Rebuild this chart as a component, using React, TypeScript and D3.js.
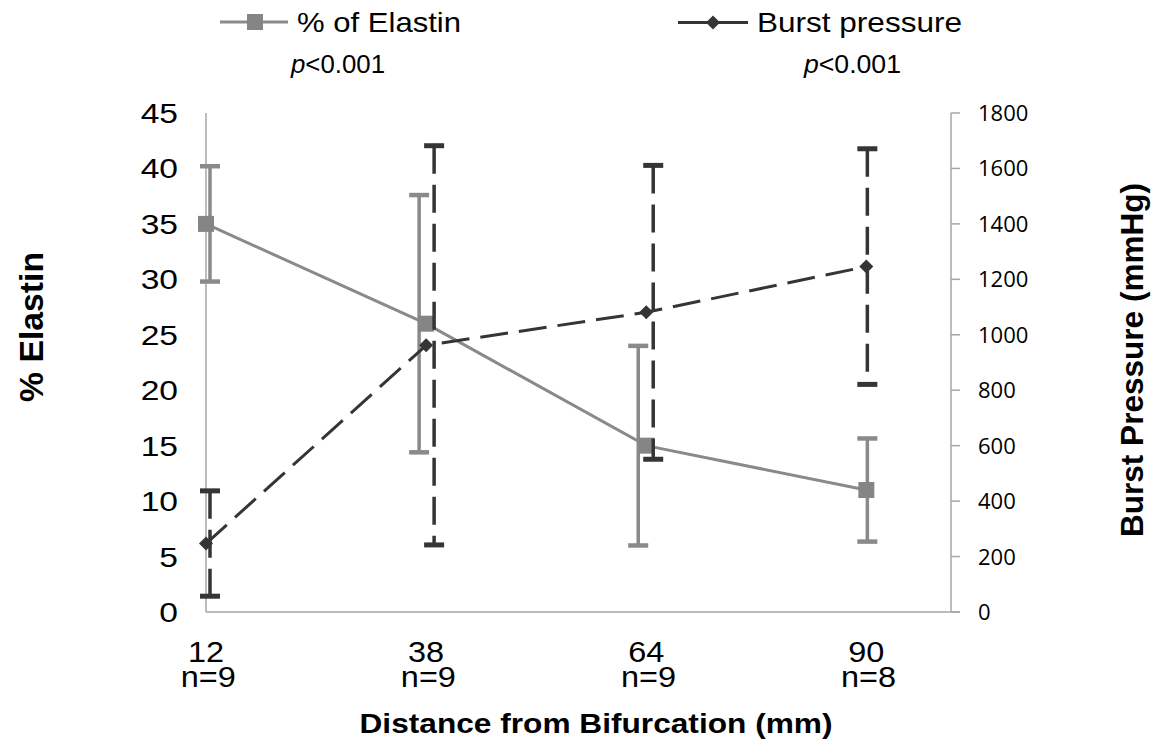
import React from "react";
import * as d3 from "d3";

const distances = [12, 38, 64, 90];
const sampleSizes = ["n=9", "n=9", "n=9", "n=8"];
const elastinMean = [35, 26, 15, 11];
const elastinSD = [5.2, 11.6, 9, 4.65];
const burstMean = [247, 962, 1081, 1246];
const burstSD = [190, 720, 530, 425];
const leftTicks = [0, 5, 10, 15, 20, 25, 30, 35, 40, 45];
const rightTicks = [0, 200, 400, 600, 800, 1000, 1200, 1400, 1600, 1800];

// styling: horizontal nudges of the error bars (px)
const elastinBarDx = [4, -7, -8, 1];
const burstBarDx = [4, 8, 7, 1];

const W = 1165;
const H = 742;
const FONT = "'Liberation Sans', Arial, sans-serif";
const RFONT = "'Open Sans', 'Liberation Sans', sans-serif";
const GRAY = "#8a8a8a";
const DARK = "#353535";
const AXIS = "#a6a6a6";

export default function App() {
  const x = d3.scaleLinear().domain([12, 100]).range([206, 951]);
  const yL = d3.scaleLinear().domain([0, 45]).range([612, 113]);
  const yR = d3.scaleLinear().domain([0, 1800]).range([612, 113]);

  const elastinLine = d3
    .line<number>()
    .x((_, i) => x(distances[i]))
    .y((d) => yL(d))(elastinMean) as string;
  const burstLine = d3
    .line<number>()
    .x((_, i) => x(distances[i]))
    .y((d) => yR(d))(burstMean) as string;

  const capW = 20;

  return (
    <svg
      width={W}
      height={H}
      style={{ position: "absolute", left: 0, top: 0, background: "#fff" }}
      fontFamily={FONT}
    >
      <rect x={0} y={0} width={W} height={H} fill="#fff" />

      {/* axes */}
      <line x1={x(12)} x2={x(12)} y1={yL(45)} y2={yL(0)} stroke={AXIS} strokeWidth={1.5} />
      <line x1={x(12)} x2={x(100) + 9} y1={yL(0)} y2={yL(0)} stroke={AXIS} strokeWidth={1.5} />
      <line x1={x(100)} x2={x(100)} y1={yR(1800)} y2={yR(0)} stroke={AXIS} strokeWidth={1.5} />
      {rightTicks.map((t) => (
        <g key={"rt" + t}>
          <line x1={x(100)} x2={x(100) + 9} y1={yR(t)} y2={yR(t)} stroke={AXIS} strokeWidth={1.5} />
          <text x={978} y={yR(t) + 8} fontFamily={RFONT} fontSize={22} fill="#000">
            {t}
          </text>
        </g>
      ))}
      {leftTicks.map((t) => (
        <text
          key={"lt" + t}
          transform={`translate(178,${yL(t) + 10}) scale(1.2,1)`}
          fontSize={28}
          textAnchor="end"
          fill="#000"
        >
          {t}
        </text>
      ))}
      {distances.map((d, i) => (
        <text
          key={"cat" + d}
          transform={`translate(${x(d)},662) scale(1.12,1)`}
          fontSize={29}
          textAnchor="middle"
          fill="#000"
        >
          <tspan x={0} y={0}>{d}</tspan>
          <tspan x={2} y={25}>{sampleSizes[i]}</tspan>
        </text>
      ))}

      {/* axis titles */}
      <text x={596} y={733} fontSize={28} fontWeight="bold" textAnchor="middle" textLength={473} lengthAdjust="spacingAndGlyphs">
        Distance from Bifurcation (mm)
      </text>
      <text
        transform="translate(43,327) rotate(-90) scale(1,1.1)"
        fontSize={31}
        fontWeight="bold"
        textAnchor="middle"
        textLength={150}
        lengthAdjust="spacingAndGlyphs"
      >
        % Elastin
      </text>
      <text
        transform="translate(1143,360) rotate(-90) scale(1,1.05)"
        fontSize={30}
        fontWeight="bold"
        textAnchor="middle"
        textLength={354}
        lengthAdjust="spacingAndGlyphs"
      >
        Burst Pressure (mmHg)
      </text>

      {/* elastin series */}
      <path d={elastinLine} fill="none" stroke={GRAY} strokeWidth={3} />
      {distances.map((d, i) => {
        const bx = x(d) + elastinBarDx[i];
        const top = yL(elastinMean[i] + elastinSD[i]);
        const bot = yL(elastinMean[i] - elastinSD[i]);
        return (
          <g key={"eb" + d} stroke={GRAY}>
            <line x1={bx} x2={bx} y1={top} y2={bot} strokeWidth={3.5} />
            <line x1={bx - capW / 2} x2={bx + capW / 2} y1={top} y2={top} strokeWidth={4.5} />
            <line x1={bx - capW / 2} x2={bx + capW / 2} y1={bot} y2={bot} strokeWidth={4.5} />
          </g>
        );
      })}
      {distances.map((d, i) => (
        <rect key={"em" + d} x={x(d) - 8} y={yL(elastinMean[i]) - 8} width={16} height={16} fill="#858585" />
      ))}

      {/* burst pressure series */}
      <path d={burstLine} fill="none" stroke={DARK} strokeWidth={3} strokeDasharray="28 11" />
      {distances.map((d, i) => {
        const bx = x(d) + burstBarDx[i];
        const top = yR(burstMean[i] + burstSD[i]);
        const bot = yR(burstMean[i] - burstSD[i]);
        return (
          <g key={"bb" + d} stroke={DARK}>
            <line x1={bx} x2={bx} y1={top} y2={bot} strokeWidth={3.5} strokeDasharray="28 11" />
            <line x1={bx - capW / 2} x2={bx + capW / 2} y1={top} y2={top} strokeWidth={5} />
            <line x1={bx - capW / 2} x2={bx + capW / 2} y1={bot} y2={bot} strokeWidth={5} />
          </g>
        );
      })}
      {distances.map((d, i) => {
        const cx = x(d);
        const cy = yR(burstMean[i]);
        return (
          <path key={"bm" + d} d={`M${cx - 7},${cy} L${cx},${cy - 7} L${cx + 7},${cy} L${cx},${cy + 7} Z`} fill={DARK} />
        );
      })}

      {/* legend */}
      <line x1={220} x2={288} y1={22} y2={22} stroke={GRAY} strokeWidth={3} />
      <rect x={247} y={14} width={16} height={16} fill="#858585" />
      <text x={297} y={32} fontSize={28} textLength={164} lengthAdjust="spacingAndGlyphs">
        % of Elastin
      </text>
      <line x1={678} x2={748} y1={22.5} y2={22.5} stroke={DARK} strokeWidth={3} />
      <path d="M706,22.5 L713,15.5 L720,22.5 L713,29.5 Z" fill={DARK} />
      <text x={757} y={32} fontSize={28} textLength={205} lengthAdjust="spacingAndGlyphs">
        Burst pressure
      </text>

      <text x={291} y={73} fontSize={25} textLength={94} lengthAdjust="spacingAndGlyphs">
        <tspan fontStyle="italic">p</tspan>&lt;0.001
      </text>
      <text x={804} y={73} fontSize={25} textLength={97} lengthAdjust="spacingAndGlyphs">
        <tspan fontStyle="italic">p</tspan>&lt;0.001
      </text>
    </svg>
  );
}
